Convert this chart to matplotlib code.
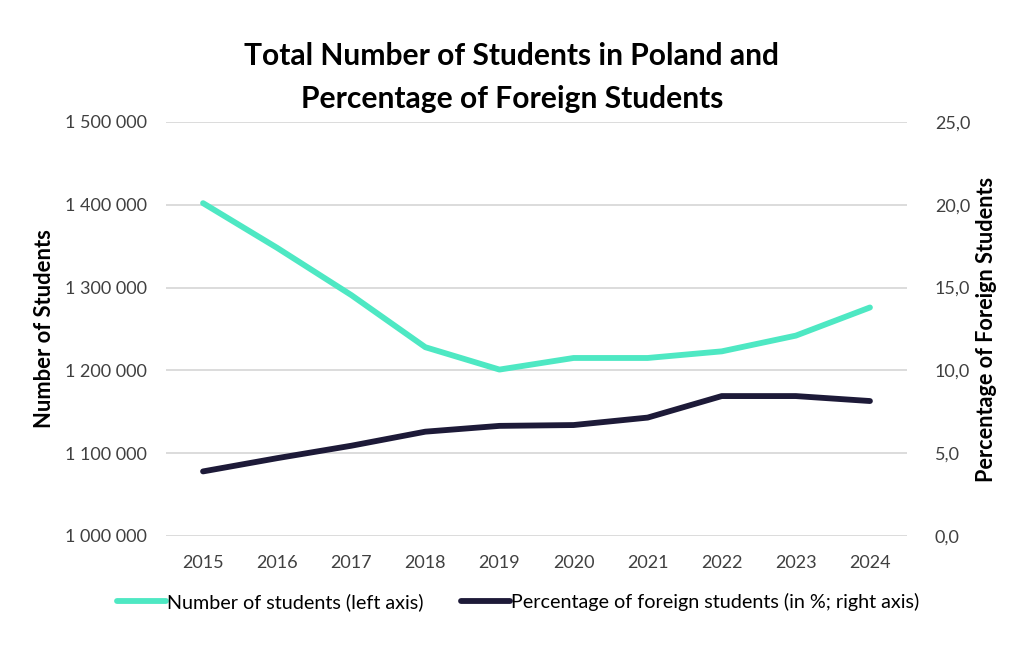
import matplotlib.pyplot as plt
from matplotlib.ticker import FuncFormatter, MultipleLocator

plt.rcParams['font.family'] = ['Lato', 'DejaVu Sans']

years = ['2015', '2016', '2017', '2018', '2019', '2020', '2021', '2022', '2023', '2024']
students = [1402000, 1348000, 1291000, 1228000, 1201000, 1215000, 1215000, 1223000, 1242000, 1276000]
foreign_pct = [3.9, 4.7, 5.45, 6.3, 6.65, 6.7, 7.15, 8.45, 8.45, 8.15]

green = '#4ee8c3'
navy = '#1d1a38'
tick_col = '#404040'

fig = plt.figure(figsize=(10.24, 6.47), dpi=100)
ax = fig.add_axes([166 / 1024, 1 - 536 / 647, (907 - 166) / 1024, (536 - 122) / 647])
ax2 = ax.twinx()

x = range(len(years))
l1, = ax.plot(x, students, color=green, lw=4.2, solid_capstyle='round', solid_joinstyle='round',
              label='Number of students (left axis)')
l2, = ax2.plot(x, foreign_pct, color=navy, lw=4.2, solid_capstyle='round', solid_joinstyle='round',
               label='Percentage of foreign students (in %; right axis)')

ax.set_xlim(-0.5, len(years) - 0.5)
ax.set_ylim(1000000, 1500000)
ax2.set_ylim(0, 25)
ax.yaxis.set_major_locator(MultipleLocator(100000))
ax2.yaxis.set_major_locator(MultipleLocator(5))
ax.yaxis.set_major_formatter(FuncFormatter(lambda v, p: f'{int(v):,}'.replace(',', ' ')))
ax2.yaxis.set_major_formatter(FuncFormatter(lambda v, p: f'{v:.1f}'.replace('.', ',')))
ax.set_xticks(list(x))
ax.set_xticklabels(years)

ax.grid(axis='y', color='#d9d9d9', lw=1.3)
ax.set_axisbelow(True)
for a in (ax, ax2):
    for s in a.spines.values():
        s.set_visible(False)
    a.tick_params(length=0, labelsize=13, colors=tick_col)
ax.tick_params(axis='y', pad=14)
ax2.tick_params(axis='y', pad=20)
ax.tick_params(axis='x', pad=14)

ax.set_ylabel('Number of Students', fontsize=15.8, fontweight='bold', color='black', labelpad=7)
ax2.set_ylabel('Percentage of Foreign Students', fontsize=15.6, fontweight='bold', color='black', labelpad=4)

fig.suptitle('Total Number of Students in Poland and\nPercentage of Foreign Students',
             fontsize=21.6, fontweight='bold', y=0.935, linespacing=1.65)

fig.legend(handles=[l1, l2], loc='center', bbox_to_anchor=(0.506, 1 - 602 / 647), ncol=2,
           frameon=False, fontsize=14.2, handlelength=2.5, handletextpad=0.05, columnspacing=1.9,
           labelcolor='black')

fig.savefig('out.png', dpi=100)
